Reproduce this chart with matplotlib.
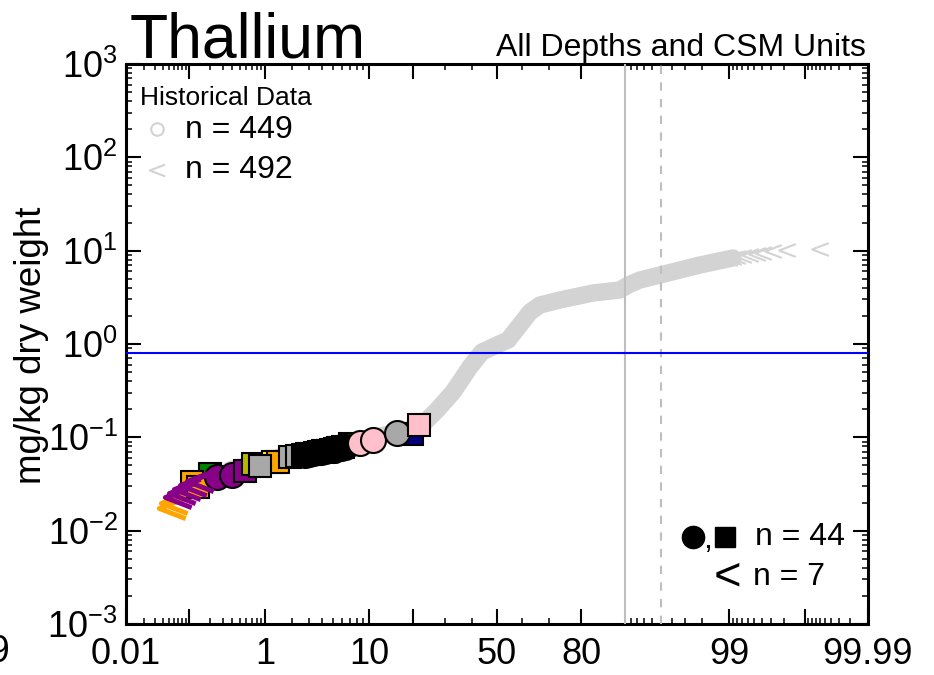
import numpy as np
import matplotlib
matplotlib.use("Agg")
import matplotlib.pyplot as plt
from matplotlib.path import Path
from statistics import NormalDist

plt.rcParams["font.family"] = ["Liberation Sans", "DejaVu Sans"]
plt.rcParams["mathtext.fontset"] = "custom"
plt.rcParams["mathtext.rm"] = "Liberation Sans"

# ---- historical data (detects drawn as a dense band, non-detects as "<")
hist_pct = [0.37, 2.41, 8.47, 16.5, 22.0, 27.4, 33.0, 39.3, 44.0, 50.0, 54.4,
            59.1, 63.0, 66.7, 73.6, 83.2, 89.1, 90.6, 92.4, 94.9, 97.9, 99.1]
hist_val = [0.0447, 0.0697, 0.0936, 0.114, 0.129, 0.196, 0.306, 0.567, 0.821,
            0.976, 1.10, 1.60, 2.20, 2.62, 2.96, 3.52, 3.79, 4.29, 4.85, 5.49,
            7.02, 8.35]
hist_nd_pct = [99.0, 99.1, 99.2, 99.32, 99.44, 99.545, 99.62, 99.72, 99.82, 99.94]
hist_nd_val = [8.2, 8.4, 8.6, 8.77, 8.99, 9.2, 9.44, 9.9, 10.2, 10.4]

# ---- current data, detects (drawing order)
det_pct = [0.20, 7.02, 19.7,
           0.111, 0.135, 0.249, 0.393, 0.574, 0.72, 1.23, 1.40, 0.873,
           1.89, 2.24,
           2.58, 2.71, 2.83, 2.97, 3.10, 3.25, 3.39, 3.55, 3.71, 3.88, 4.05,
           4.23, 4.41, 4.60, 4.80, 5.00, 5.21, 5.43, 5.65, 5.88, 6.12, 6.36,
           4.5, 5.1, 5.6, 6.0,
           8.47, 10.7, 15.8, 21.7]
det_val = [0.0405, 0.0848, 0.108,
           0.0332, 0.0294, 0.0376, 0.0395, 0.0436, 0.0518, 0.0544, 0.0544, 0.0493,
           0.0615, 0.0631,
           0.065, 0.065, 0.066, 0.067, 0.067, 0.068, 0.068, 0.069, 0.070, 0.070, 0.071,
           0.072, 0.072, 0.073, 0.074, 0.074, 0.075, 0.076, 0.077, 0.077, 0.078, 0.079,
           0.071, 0.074, 0.076, 0.078,
           0.0869, 0.0936, 0.111, 0.1355]
det_color = (["#008000", "#008000", "#000080",
              "#FFA500", "#FFA500", "#880088", "#880088", "#880088",
              "#B8B800", "#FFFF00", "#FFA500", "#A8A8A8", "#A8A8A8", "#A8A8A8"]
             + ["black"] * 26
             + ["#FFC0CB", "#FFC0CB", "#A8A8A8", "#FFC0CB"])
det_marker = (["s", "s", "s",
               "s", "s", "o", "o", "s", "s", "s", "s", "s", "s", "s"]
              + ["s", "o"] * 13
              + ["o", "o", "o", "s"])

# ---- current data, non-detects
nd_pct = [0.0557, 0.0598, 0.0687, 0.079, 0.0938, 0.115, 0.145]
nd_val = [0.0175, 0.0198, 0.0230, 0.0253, 0.0279, 0.0308, 0.0340]
nd_color = ["#FFA500", "#FFA500", "#880088", "#880088", "#880088", "#880088", "#880088"]

screen_level = 0.8
pct_lines = [90, 95]

xticks_major = [0.01, 0.1, 1, 10, 20, 50, 80, 99, 99.9, 99.99]
xtick_labels = ["0.01", "", "1", "10", "", "50", "80", "99", "", "99.99"]
xticks_minor = ([0.02, 0.03, 0.04, 0.05, 0.06, 0.07, 0.08, 0.09,
                 0.2, 0.3, 0.4, 0.5, 0.6, 0.7, 0.8, 0.9,
                 2, 3, 4, 5, 6, 7, 8, 9, 30, 40, 60, 70,
                 91, 92, 93, 94, 95, 96, 97, 98,
                 99.1, 99.2, 99.3, 99.4, 99.5, 99.6, 99.7, 99.8,
                 99.91, 99.92, 99.93, 99.94, 99.95, 99.96, 99.97, 99.98])
yticks_major = [1e-3, 1e-2, 1e-1, 1e0, 1e1, 1e2, 1e3]
ytick_labels = [r"$\mathregular{10^{-3}}$", r"$\mathregular{10^{-2}}$",
                r"$\mathregular{10^{-1}}$", r"$\mathregular{10^{0}}$",
                r"$\mathregular{10^{1}}$", r"$\mathregular{10^{2}}$",
                r"$\mathregular{10^{3}}$"]

_nd = NormalDist()
_inv = np.vectorize(_nd.inv_cdf, otypes=[float])
_cdf = np.vectorize(_nd.cdf, otypes=[float])


def to_z(p):
    p = np.clip(np.asarray(p, dtype=float) / 100.0, 1e-12, 1 - 1e-12)
    return _inv(p)


def from_z(z):
    return _cdf(np.asarray(z, dtype=float)) * 100.0


chevron = Path([(0.65, 0.5), (-0.65, 0.0), (0.65, -0.5)],
               [Path.MOVETO, Path.LINETO, Path.LINETO])

W, H = 934, 675
fig = plt.figure(figsize=(W / 100, H / 100), dpi=100)
L, R, T, B = 126, 868, 64, 624
ax = fig.add_axes([L / W, 1 - B / H, (R - L) / W, (B - T) / H])
ax.set_xscale("function", functions=(to_z, from_z))
ax.set_yscale("log")
ax.set_xlim(0.01, 99.99)
ax.set_ylim(1e-3, 1e3)

# historical
ax.plot(hist_pct, hist_val, color="#D3D3D3", lw=12.5, solid_capstyle="round",
        solid_joinstyle="round", zorder=2)
ax.plot(hist_nd_pct, hist_nd_val, ls="none", marker=chevron, ms=12,
        mfc="none", mec="#D3D3D3", mew=1.5, zorder=2)

# reference lines
ax.axvline(pct_lines[0], color="#BEBEBE", lw=1.5, zorder=3)
ax.axvline(pct_lines[1], color="#BEBEBE", lw=1.5, ls=(0, (4, 4)), zorder=3)
ax.axhline(screen_level, color="blue", lw=1.5, zorder=3)

# current detects
for p, v, c, m in zip(det_pct, det_val, det_color, det_marker):
    ax.plot([p], [v], ls="none", marker=m, ms=18 if m == "o" else 16,
            mfc=c, mec="black", mew=1.5, zorder=4)

# current non-detects
for p, v, c in zip(nd_pct, nd_val, nd_color):
    ax.plot([p], [v], ls="none", marker=chevron, ms=19, mfc="none",
            mec=c, mew=3.5, zorder=5)

# axes styling
ax.set_xticks(xticks_major)
ax.set_xticklabels(xtick_labels)
ax.set_xticks(xticks_minor, minor=True)
ax.set_yticks(yticks_major)
ax.set_yticklabels(ytick_labels)
ax.tick_params(which="both", direction="in", top=True, right=True,
               labelsize=26, colors="black")
ax.tick_params(which="major", length=10.5, width=1.5)
ax.tick_params(which="minor", length=4.3, width=1.1)
ax.tick_params(axis="x", pad=9)
ax.tick_params(axis="y", pad=6)
for s in ax.spines.values():
    s.set_linewidth(2.2)


def axc(px, py):
    return (px - L) / (R - L), (B - py) / (B - T)


# historical legend
ax.text(*axc(140, 105), "Historical Data", transform=ax.transAxes,
        fontsize=19, va="baseline", ha="left")
ax.plot(*axc(157, 129), transform=ax.transAxes, marker="o", ms=9,
        mfc="none", mec="#D3D3D3", mew=1.5, clip_on=False)
ax.text(*axc(185, 130), "n = 449", transform=ax.transAxes, fontsize=23,
        va="center", ha="left")
ax.plot(*axc(157, 170), transform=ax.transAxes, marker=chevron, ms=11,
        mfc="none", mec="#D3D3D3", mew=1.5, clip_on=False)
ax.text(*axc(185, 170), "n = 492", transform=ax.transAxes, fontsize=23,
        va="center", ha="left")

# current legend
ax.plot(*axc(693, 537), transform=ax.transAxes, marker="o", ms=16,
        color="black", ls="none")
ax.text(*axc(708, 548), ",", transform=ax.transAxes, fontsize=23,
        va="baseline", ha="center")
ax.plot(*axc(725, 537), transform=ax.transAxes, marker="s", ms=14,
        color="black", ls="none")
ax.text(*axc(845, 537), "n = 44", transform=ax.transAxes, fontsize=23,
        va="center", ha="right")
ax.text(*axc(727, 577), "<", transform=ax.transAxes, fontsize=34,
        va="center", ha="center")
ax.text(*axc(825, 577), "n = 7", transform=ax.transAxes, fontsize=23,
        va="center", ha="right")

# titles and labels
fig.text(130 / W, 1 - 57 / H, "Thallium", fontsize=45, va="baseline", ha="left")
fig.text(866 / W, 1 - 56 / H, "All Depths and CSM Units", fontsize=23,
         va="baseline", ha="right")
fig.text(32 / W, 1 - 345 / H, "mg/kg dry weight", fontsize=26.5,
         rotation=90, va="center", ha="center")
fig.text(9 / W, 1 - 652 / H, "9", fontsize=27, va="center", ha="right")

fig.savefig("out.png", dpi=100)
